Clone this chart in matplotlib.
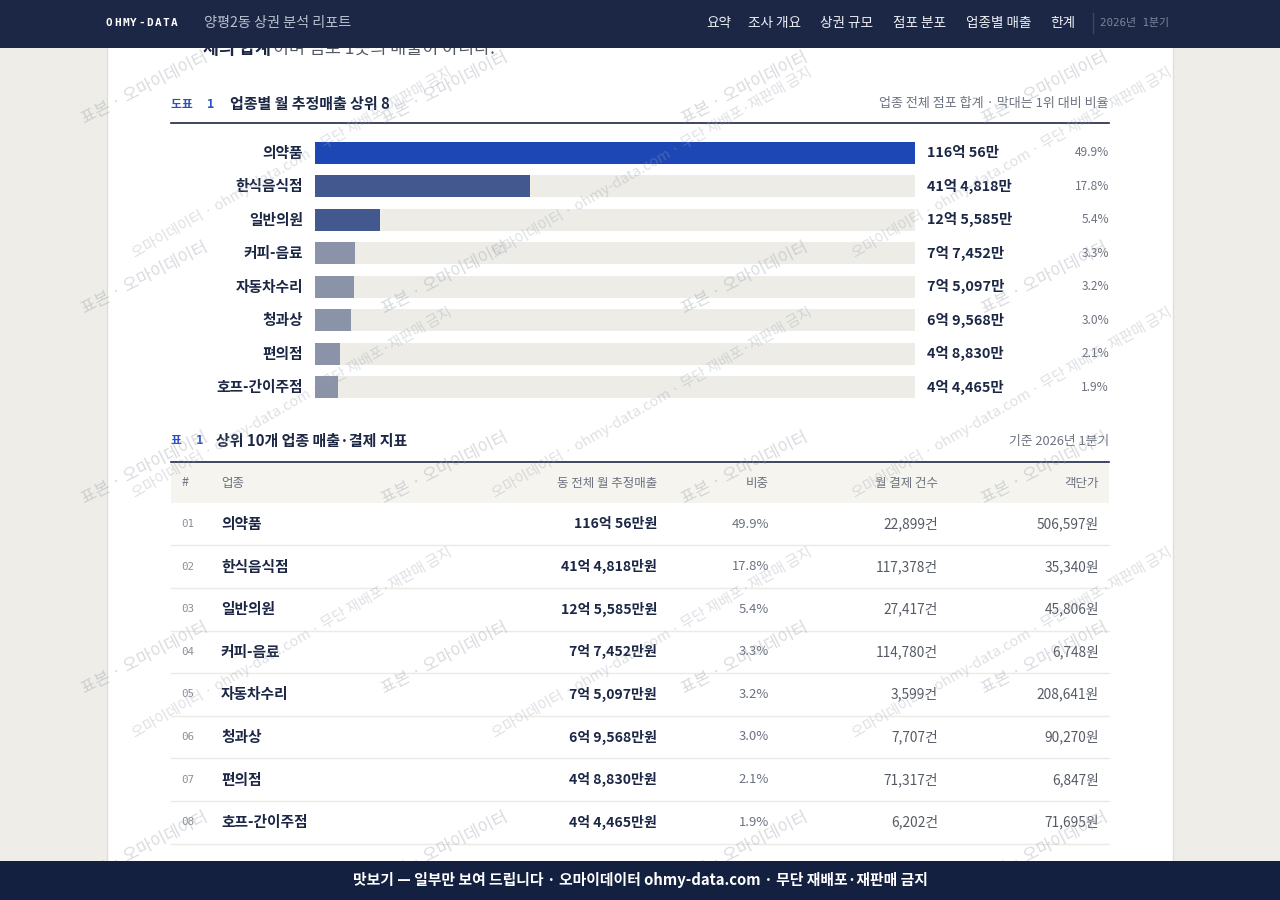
import numpy as np
import matplotlib.pyplot as plt
from matplotlib.patches import Rectangle
from matplotlib.transforms import blended_transform_factory

KR = ['Noto Sans CJK KR', 'DejaVu Sans']
MONO = ['DejaVu Sans Mono', 'Noto Sans CJK KR']
plt.rcParams['font.family'] = KR

# --- data -------------------------------------------------------------
categories = ['의약품', '한식음식점', '일반의원', '커피-음료', '자동차수리', '청과상', '편의점', '호프-간이주점']
sales_man = [1160056, 414818, 125585, 77452, 75097, 69568, 48830, 44465]   # 만원
share_pct = [49.9, 17.8, 5.4, 3.3, 3.2, 3.0, 2.1, 1.9]
pay_counts = [22899, 117378, 27417, 114780, 3599, 7707, 71317, 6202]
unit_price = [506597, 35340, 45806, 6748, 208641, 90270, 6847, 71695]
nav_items = ['요약', '조사 개요', '상권 규모', '점포 분포', '업종별 매출', '한계']

NAVY = '#1b2745'
GRAY = '#6b7280'
BAR_COLORS = ['#1e47b6', '#42588f', '#42588f', '#8a93a7', '#8a93a7', '#8a93a7', '#8a93a7', '#8a93a7']


def fmt_money(v):
    eok, man = divmod(v, 10000)
    return f'{eok}억 {man:,}만'


fig = plt.figure(figsize=(12.8, 9), dpi=100)
fig.patch.set_facecolor('#eeede8')

# page layer (pixel coordinates)
bg = fig.add_axes([0, 0, 1, 1])
bg.set_xlim(0, 1280)
bg.set_ylim(900, 0)
bg.axis('off')
bg.add_patch(Rectangle((107, 0), 1066, 900, facecolor='white', edgecolor='#e0dfda', lw=1))

# cut-off sentence under the header
bg.text(203, 54, '체의 합계', fontsize=12.5, fontweight='bold', color=NAVY, va='baseline')
bg.text(273, 54, '이며 점포 1곳의 매출이 아니다.', fontsize=12.5, color='#555b66', va='baseline')

# chart 1 heading
bg.text(171, 104, '도표  1', family=MONO, fontsize=8.5, fontweight='bold', color='#2a4fc0', va='center')
bg.text(230, 104, '업종별 월 추정매출 상위 8', fontsize=10.8, fontweight='bold', color=NAVY, va='center')
bg.text(1109, 104, '업종 전체 점포 합계 · 막대는 1위 대비 비율', fontsize=9.4, color=GRAY, va='center', ha='right')
bg.plot([171, 1109], [123, 123], color=NAVY, lw=1.2)

# chart 1 bars
n = len(categories)
row_h = 33.43
top = 153 - row_h / 2
ax = fig.add_axes([315 / 1280, 1 - (top + n * row_h) / 900, 600 / 1280, n * row_h / 900])
ax.set_facecolor('none')
ypos = np.arange(n)
ax.barh(ypos, [max(sales_man)] * n, height=0.66, color='#edece7', zorder=1)
ax.barh(ypos, sales_man, height=0.66, color=BAR_COLORS, zorder=2)
ax.set_xlim(0, max(sales_man))
ax.set_ylim(n - 0.5, -0.5)
ax.axis('off')
tr = blended_transform_factory(fig.transFigure, ax.transData)
for i, cat in enumerate(categories):
    ax.text(303 / 1280, i, cat, transform=tr, ha='right', va='center', fontsize=10.6,
            fontweight='bold', color=NAVY)
    ax.text(927 / 1280, i, fmt_money(sales_man[i]), transform=tr, ha='left', va='center',
            fontsize=10.4, fontweight='bold', color=NAVY)
    ax.text(1109 / 1280, i, f'{share_pct[i]:.1f}%', transform=tr, ha='right', va='center',
            fontsize=8.6, color=GRAY)

# table heading
bg.text(171, 441, '표  1', family=MONO, fontsize=8.5, fontweight='bold', color='#2a4fc0', va='center')
bg.text(216, 441, '상위 10개 업종 매출·결제 지표', fontsize=10.8, fontweight='bold', color=NAVY, va='center')
bg.text(1109, 441, '기준 2026년 1분기', fontsize=9.2, color=GRAY, va='center', ha='right')
bg.plot([171, 1109], [462, 462], color=NAVY, lw=1.2)
bg.add_patch(Rectangle((171, 463), 938, 40, facecolor='#f5f4ef', edgecolor='none'))

head_y = 483
bg.text(181, head_y, '#', fontsize=9, color=GRAY, va='center')
bg.text(221, head_y, '업종', fontsize=9, color=GRAY, va='center')
bg.text(657, head_y, '동 전체 월 추정매출', fontsize=9, color=GRAY, va='center', ha='right')
bg.text(769, head_y, '비중', fontsize=9, color=GRAY, va='center', ha='right')
bg.text(938, head_y, '월 결제 건수', fontsize=9, color=GRAY, va='center', ha='right')
bg.text(1099, head_y, '객단가', fontsize=9, color=GRAY, va='center', ha='right')

pitch = 42.6
for i, cat in enumerate(categories):
    y = 524 + i * pitch
    bg.text(181, y, f'{i + 1:02d}', family=MONO, fontsize=7.8, color='#8a8f99', va='center')
    bg.text(221, y, cat, fontsize=10.6, fontweight='semibold', color=NAVY, va='center')
    bg.text(657, y, fmt_money(sales_man[i]) + '원', fontsize=10.1, fontweight='bold', color=NAVY,
            va='center', ha='right')
    bg.text(769, y, f'{share_pct[i]:.1f}%', fontsize=9.4, color='#6b7280', va='center', ha='right')
    bg.text(938, y, f'{pay_counts[i]:,}건', fontsize=9.9, color='#555b66', va='center', ha='right')
    bg.text(1099, y, f'{unit_price[i]:,}원', fontsize=9.9, color='#555b66', va='center', ha='right')
    bg.plot([171, 1109], [y + pitch / 2, y + pitch / 2], color='#ebeae5', lw=1)

# overlay: watermarks, header, footer
ov = fig.add_axes([0, 0, 1, 1])
ov.set_xlim(0, 1280)
ov.set_ylim(900, 0)
ov.axis('off')
ov.patch.set_alpha(0)

# watermark tiles, kept inside the page column
for cx in range(145, 1100, 300):
    for cy in range(88, 860, 190):
        ov.text(cx, cy, '표본 · 오마이데이터', fontsize=12, color='#9aa0aa', alpha=0.38,
                rotation=27, ha='center', va='center', rotation_mode='anchor', zorder=3)
for cx in range(292, 1100, 360):
    for cy in range(163, 860, 240):
        ov.text(cx, cy, '오마이데이터 · ohmy-data.com · 무단 재배포·재판매 금지', fontsize=10.5,
                color='#9aa0aa', alpha=0.32, rotation=30, ha='center', va='center',
                rotation_mode='anchor', zorder=3)

ov.add_patch(Rectangle((0, 0), 1280, 48, facecolor='#1b2745', edgecolor='none', zorder=10))
for k, ch in enumerate('OHMY-DATA'):
    ov.text(106 + k * 8.1, 23, ch, family=MONO, fontsize=8, fontweight='bold', color='white',
            va='center', zorder=11)
ov.text(204, 23, '양평2동 상권 분석 리포트', fontsize=10.2, color='#b9c0cf', va='center', zorder=11)
nav_x = [706, 748, 820, 893, 966, 1050]
for x, item in zip(nav_x, nav_items):
    ov.text(x, 23, item, fontsize=9.8, color='#eef0f5', va='center', zorder=11)
ov.plot([1093, 1093], [13, 33], color='#3b4763', lw=1, zorder=11)
ov.text(1100, 23, '2026년 1분기', family=MONO, fontsize=7.8, color='#7c869c', va='center', zorder=11)

ov.add_patch(Rectangle((0, 861), 1280, 39, facecolor='#13203f', edgecolor='none', zorder=10))
ov.text(640, 880, '맛보기 — 일부만 보여 드립니다 · 오마이데이터 ohmy-data.com · 무단 재배포·재판매 금지',
        fontsize=10.7, fontweight='bold', color='white', ha='center', va='center', zorder=11)

fig.savefig('out.png', dpi=100, facecolor=fig.get_facecolor())
